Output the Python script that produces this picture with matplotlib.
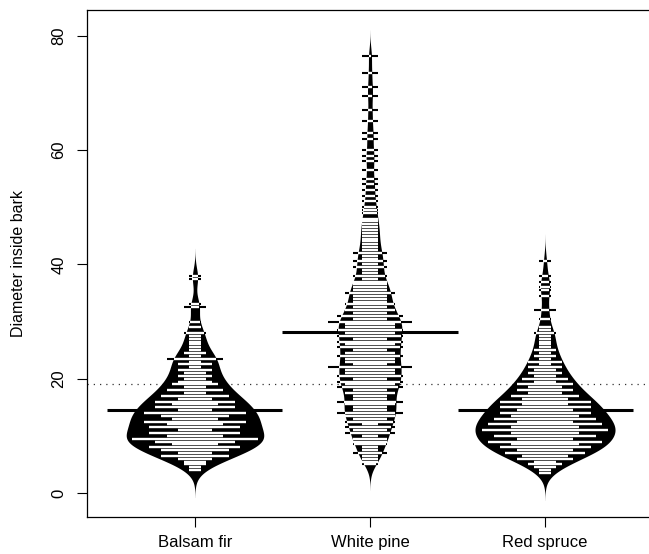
import numpy as np
import matplotlib
matplotlib.use("Agg")
import matplotlib.pyplot as plt
from matplotlib.collections import LineCollection

plt.rcParams['font.family'] = ['Liberation Sans', 'DejaVu Sans']

species = ["Balsam fir", "White pine", "Red spruce"]

# diameters: counts on a half-unit grid + sparse tails
bf_grid = np.arange(4.0, 26.01, 0.5)
bf_counts = [1, 1, 2, 2, 3, 6, 3, 6, 8, 4,
             7, 11, 5, 8, 3, 8, 5, 9, 4, 6,
             9, 3, 7, 4, 7, 3, 6, 2, 5, 2,
             4, 3, 2, 3, 2, 3, 1, 3, 1, 5,
             1, 2, 1, 1, 1]
bf_tail = [26.5, 27.0, 27.5, 28.0, 28.0, 29.0, 30.0,
           32.5, 32.5, 33.0, 37.5, 38.0]

wp_grid = np.arange(5.0, 50.01, 0.5)
wp_counts = [1, 1, 1, 1, 2, 1, 1, 2, 2, 2,
             1, 3, 2, 3, 1, 3, 2, 3, 4, 2,
             2, 3, 4, 2, 2, 3, 2, 4, 3, 4,
             2, 4, 3, 3, 5, 2, 3, 3, 4, 3,
             2, 4, 3, 4, 2, 4, 3, 4, 3, 3,
             5, 2, 4, 2, 3, 2, 3, 2, 2, 2,
             3, 2, 2, 2, 2, 1, 2, 1, 1, 2,
             1, 2, 1, 1, 2, 1, 1, 1, 1, 1,
             1, 1, 1, 1, 1, 1, 1, 0, 1, 1,
             1]
wp_tail = [51, 52, 53, 54, 55, 56.5, 58, 59, 60, 62, 63, 65, 67,
           69.5, 71, 73.5, 76.5]

rs_grid = np.arange(3.5, 27.01, 0.5)
rs_counts = [1, 1, 2, 3, 2, 5, 4, 7, 5, 8,
             6, 10, 5, 9, 6, 11, 6, 10, 5, 9,
             6, 8, 5, 8, 4, 8, 4, 6, 3, 5,
             3, 5, 2, 4, 2, 3, 2, 3, 1, 3,
             1, 2, 1, 2, 1, 1, 1, 1]
rs_tail = [27.5, 28.0, 28.0, 28.5, 29.0, 30.5, 32.0, 32.0,
           34.5, 35.5, 36.0, 37.0, 38.0, 40.5]

data = [
    np.concatenate([np.repeat(bf_grid, bf_counts), bf_tail]),
    np.concatenate([np.repeat(wp_grid, wp_counts), wp_tail]),
    np.concatenate([np.repeat(rs_grid, rs_counts), rs_tail]),
]
bws = [1.6, 1.5, 1.6]
line_unit = [0.065, 0.095, 0.065]


def kde(x, bw):
    y = np.linspace(x.min() - 3 * bw, x.max() + 3 * bw, 600)
    d = np.exp(-0.5 * ((y[:, None] - x[None, :]) / bw) ** 2).sum(axis=1)
    d = d / (len(x) * bw * np.sqrt(2 * np.pi))
    return y, d


fig = plt.figure(figsize=(6.49, 5.54), dpi=100)
ax = fig.add_axes([87 / 649, 1 - 517 / 554, 566 / 649, 507 / 554])

dens = [kde(x, bw) for x, bw in zip(data, bws)]
scale = 0.4 / max(d.max() for _, d in dens)

allx = np.concatenate(data)
ax.axhline(allx.mean(), color="#333333", lw=0.9, ls=(0, (1, 4)), zorder=1)

for i, (x, (yy, d)) in enumerate(zip(data, dens)):
    pos = i + 1
    w = d * scale
    ax.fill_betweenx(yy, pos - w, pos + w, color="black", lw=0, zorder=2)
    m = x.mean()
    ax.plot([pos - 0.5, pos + 0.5], [m, m], color="black", lw=2.2,
            solid_capstyle="butt", zorder=3)
    vals, cnt = np.unique(x, return_counts=True)
    black, white = [], []
    for v, k in zip(vals, cnt):
        half = min(k * line_unit[i], 0.96) / 2
        wi = min(half, np.interp(v, yy, w))
        black.append([(pos - half, v), (pos + half, v)])
        white.append([(pos - wi, v), (pos + wi, v)])
    ax.add_collection(LineCollection(black, colors="black", linewidths=1.5,
                                     zorder=4))
    ax.add_collection(LineCollection(white, colors="white", linewidths=1.7,
                                     zorder=5))

ax.set_xlim(0.383, 3.617)
ax.set_ylim(-4.2, 84.5)
ax.set_xticks([1, 2, 3])
ax.set_xticklabels(species, fontsize=12)
ax.set_yticks([0, 20, 40, 60, 80])
ax.set_yticklabels(["0", "20", "40", "60", "80"], fontsize=12,
                   rotation=90, va="center")
ax.tick_params(length=7, width=0.8, pad=8)
ax.tick_params(axis="x", pad=6)
for s in ax.spines.values():
    s.set_linewidth(0.9)
ax.set_ylabel("Diameter inside bark", fontsize=11.5, labelpad=18)

fig.savefig("out.png", dpi=100)
